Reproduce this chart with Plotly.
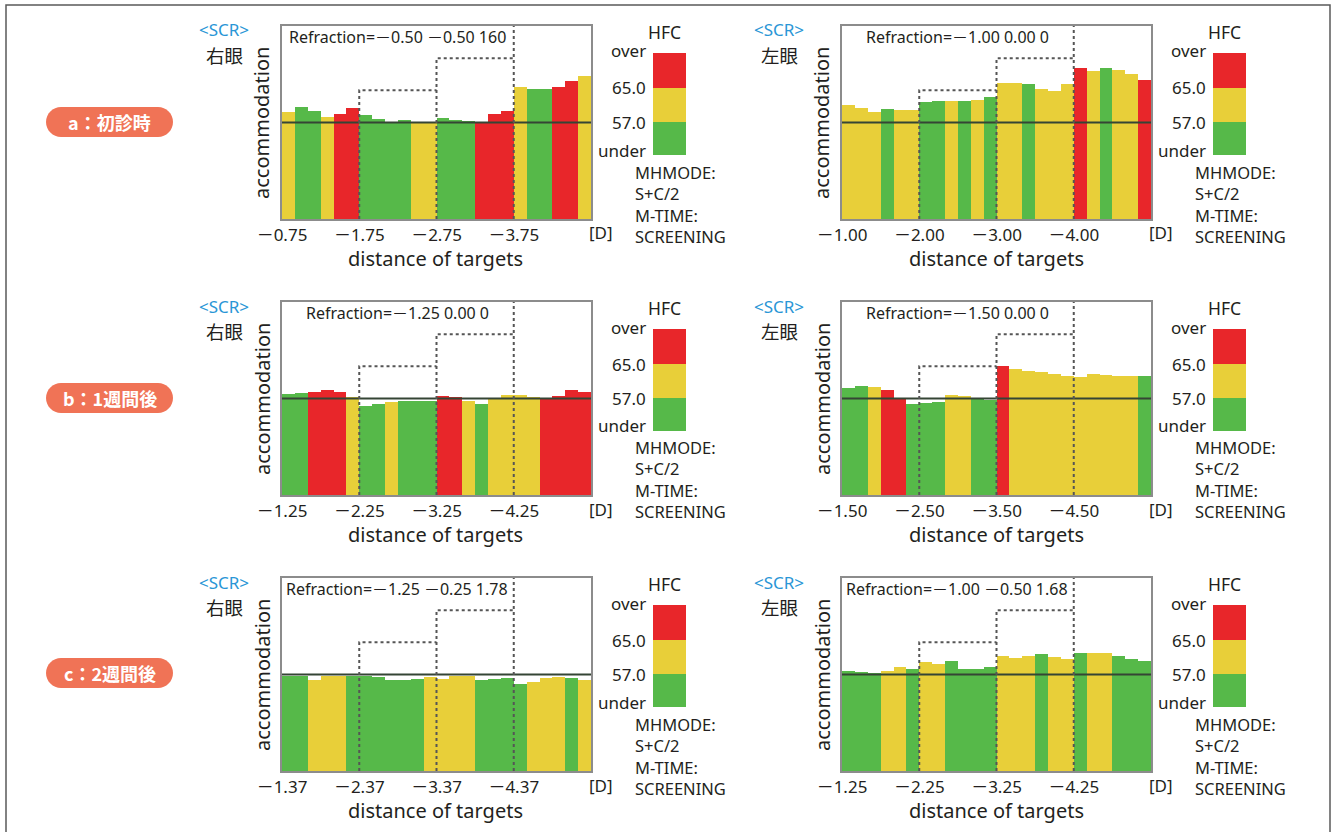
import plotly.graph_objects as go

W, H = 1335, 832
FONT = "Noto Sans, Noto Sans CJK JP, sans-serif"
CJK = "Noto Sans CJK JP, Noto Sans, sans-serif"

# ---------------- data ----------------
GREEN, YELLOW, RED = "#56b949", "#e8cf39", "#e8262a"
CLASS_COLOR = {"G": GREEN, "Y": YELLOW, "R": RED}

bars_per_step = 6
target_levels = [50, 66.7, 83.3, 100]          # staircase of target stimulus (4 steps)
legend_labels = ["over", "65.0", "57.0", "under"]
info_lines = ["MHMODE:", "S+C/2", "M-TIME:", "SCREENING"]
row_labels = ["a：初診時", "b：1週間後", "c：2週間後"]
eye_labels = ["右眼", "左眼"]

a_right_acc = [55.6, 58.2, 56.1, 53.0, 54.2, 57.7,
               53.9, 51.6, 50.1, 51.3, 49.6, 49.6,
               52.2, 51.5, 50.8, 50.4, 54.2, 56.0,
               68.6, 67.4, 67.4, 68.6, 71.7, 74.1]
a_right_hfc = ["Y", "G", "G", "Y", "R", "R",
               "G", "G", "G", "G", "Y", "Y",
               "G", "G", "G", "R", "R", "R",
               "Y", "G", "G", "R", "R", "Y"]
a_right_ticks = ["－0.75", "－1.75", "－2.75", "－3.75"]
a_right_refr = "Refraction=－0.50 －0.50 160"

a_left_acc = [59.1, 57.3, 55.3, 56.8, 56.5, 56.5,
              60.8, 61.3, 61.3, 61.1, 61.7, 63.2,
              70.3, 70.6, 69.9, 67.2, 66.2, 69.9,
              78.1, 76.7, 78.4, 77.2, 75.3, 71.8]
a_left_hfc = ["Y", "Y", "Y", "G", "Y", "Y",
              "G", "G", "Y", "G", "Y", "G",
              "Y", "Y", "G", "Y", "Y", "Y",
              "R", "Y", "G", "Y", "Y", "R"]
a_left_ticks = ["－1.00", "－2.00", "－3.00", "－4.00"]
a_left_refr = "Refraction=－1.00 0.00 0"

b_right_acc = [52.3, 52.7, 53.2, 54.4, 53.6, 50.6,
               46.3, 47.1, 48.0, 48.9, 48.9, 48.9,
               51.5, 50.6, 48.9, 47.1, 50.3, 51.6,
               52.0, 51.0, 50.3, 51.3, 54.4, 53.2]
b_right_hfc = ["G", "G", "R", "R", "R", "Y",
               "G", "G", "Y", "G", "G", "G",
               "R", "R", "Y", "G", "Y", "Y",
               "Y", "Y", "R", "R", "R", "R"]
b_right_ticks = ["－1.25", "－2.25", "－3.25", "－4.25"]
b_right_refr = "Refraction=－1.25 0.00 0"

b_left_acc = [55.5, 56.3, 55.8, 54.6, 50.3, 47.1,
              47.7, 48.0, 51.8, 51.5, 50.1, 49.4,
              67.1, 65.3, 64.5, 63.6, 62.7, 61.9,
              61.4, 62.7, 62.4, 61.9, 61.9, 61.9]
b_left_hfc = ["G", "G", "Y", "R", "R", "G",
              "G", "G", "Y", "Y", "G", "G",
              "R", "Y", "Y", "Y", "Y", "Y",
              "Y", "Y", "Y", "Y", "Y", "G"]
b_left_ticks = ["－1.50", "－2.50", "－3.50", "－4.50"]
b_left_refr = "Refraction=－1.50 0.00 0"

c_right_acc = [49.1, 49.1, 47.4, 49.1, 49.1, 49.1,
               49.1, 48.8, 47.4, 47.1, 47.6, 48.8,
               47.6, 49.1, 49.1, 47.4, 47.9, 48.3,
               45.3, 46.2, 48.3, 48.6, 48.4, 47.4]
c_right_hfc = ["G", "G", "Y", "Y", "Y", "G",
               "G", "G", "G", "G", "G", "Y",
               "Y", "Y", "Y", "G", "G", "G",
               "G", "Y", "Y", "Y", "G", "Y"]
c_right_ticks = ["－1.37", "－2.37", "－3.37", "－4.37"]
c_right_refr = "Refraction=－1.25 －0.25 1.78"

c_left_acc = [51.7, 51.4, 50.9, 51.7, 54.0, 53.1,
              56.6, 55.7, 57.1, 52.8, 53.1, 54.0,
              59.7, 58.7, 59.7, 60.4, 59.2, 57.8,
              61.4, 61.3, 60.9, 59.7, 57.8, 57.1]
c_left_hfc = ["G", "G", "G", "Y", "Y", "G",
              "Y", "Y", "G", "G", "G", "G",
              "Y", "Y", "Y", "G", "Y", "Y",
              "G", "Y", "Y", "G", "G", "G"]
c_left_ticks = ["－1.25", "－2.25", "－3.25", "－4.25"]
c_left_refr = "Refraction=－1.00 －0.50 1.68"

panels = [
    (0, 0, a_right_acc, a_right_hfc, a_right_ticks, a_right_refr),
    (0, 1, a_left_acc, a_left_hfc, a_left_ticks, a_left_refr),
    (1, 0, b_right_acc, b_right_hfc, b_right_ticks, b_right_refr),
    (1, 1, b_left_acc, b_left_hfc, b_left_ticks, b_left_refr),
    (2, 0, c_right_acc, c_right_hfc, c_right_ticks, c_right_refr),
    (2, 1, c_left_acc, c_left_hfc, c_left_ticks, c_left_refr),
]

# ---------------- layout geometry (pixels) ----------------
COL_LEFT = [282, 842]
ROW_TOP = [26, 302, 578]
PW, PH = 309, 193
SCR_OFF = [58, 63]
PILL_CY = [122, 398, 673]


def px(x):
    return x / W


def py(y):
    return 1 - y / H


fig = go.Figure()
annotations = []
shapes = []


def txt(x, y, s, size=16, color="#231f20", xanchor="center", angle=0, family=FONT,
        align="center"):
    annotations.append(dict(
        x=px(x), y=py(y), xref="paper", yref="paper", text=s, showarrow=False,
        xanchor=xanchor, yanchor="middle", textangle=angle, align=align,
        font=dict(family=family, size=size, color=color)))


n_steps = len(target_levels)
n_bars = n_steps * bars_per_step

for i, (r, c, acc, hfc, ticks, refr) in enumerate(panels):
    k = i + 1
    xa, ya = f"x{k}", f"y{k}"
    L, T = COL_LEFT[c], ROW_TOP[r]
    R, B = L + PW, T + PH

    xs = [j + 0.5 for j in range(len(acc))]
    fig.add_trace(go.Bar(
        x=xs, y=acc, width=1.0, xaxis=xa, yaxis=ya,
        marker=dict(color=[CLASS_COLOR[h] for h in hfc], line=dict(width=0)),
        showlegend=False, hoverinfo="skip"))

    # reference line at first target level
    fig.add_trace(go.Scatter(
        x=[0, n_bars], y=[target_levels[0]] * 2, mode="lines", xaxis=xa, yaxis=ya,
        line=dict(color="#354535", width=1.8), showlegend=False, hoverinfo="skip"))

    # dotted staircase of targets
    sx, sy = [], []
    for s in range(1, n_steps):
        b0 = s * bars_per_step
        sx += [b0, b0]
        sy += [0, target_levels[s]]
        if s < n_steps - 1:
            sx += [b0 + bars_per_step]
            sy += [target_levels[s]]
        sx += [None]
        sy += [None]
    fig.add_trace(go.Scatter(
        x=sx, y=sy, mode="lines", xaxis=xa, yaxis=ya,
        line=dict(color="#555555", width=2, dash="dot"),
        showlegend=False, hoverinfo="skip"))

    axis_common = dict(showline=True, mirror=True, linecolor="#8c8c8c", linewidth=2,
                       showgrid=False, zeroline=False, automargin=False)
    fig.layout[f"xaxis{k}"] = dict(
        domain=[px(L), px(R)], anchor=ya, range=[0, n_bars],
        tickvals=[s * bars_per_step for s in range(n_steps)], ticktext=ticks,
        ticks="", tickfont=dict(family=FONT, size=17, color="#231f20"), **axis_common)
    fig.layout[f"yaxis{k}"] = dict(
        domain=[py(B), py(T)], anchor=xa, range=[0, 100],
        showticklabels=False, ticks="", **axis_common)

    # texts
    txt(L + 115, T + 11, refr, size=16)
    txt(L - SCR_OFF[c], T + 4, "&lt;SCR&gt;", size=17, color="#2a96d6")
    txt(L - SCR_OFF[c], T + 29, eye_labels[c], size=18.5)
    txt(L - 20, T + 97, "accommodation", size=20, angle=-90)
    txt(R + 10, B + 14, "[D]", size=17)
    txt(L + 154, B + 39, "distance of targets", size=20)

    # HFC legend
    txt(R + 73, T + 6, "HFC", size=17.5)
    ys_lab = [T + 25, T + 62, T + 96, T + 124]
    for lab, yy in zip(legend_labels, ys_lab):
        txt(R + 57, yy, lab, size=17, xanchor="right")
    bands = [(RED, T + 27, T + 62), (YELLOW, T + 62, T + 96), (GREEN, T + 96, T + 129)]
    for col, y0, y1 in bands:
        shapes.append(dict(type="rect", xref="paper", yref="paper",
                           x0=px(R + 62), x1=px(R + 95), y0=py(y1), y1=py(y0),
                           fillcolor=col, line=dict(width=0), layer="above"))
    txt(R + 42, T + 178, "<br>".join(info_lines), size=16.5, xanchor="left", align="left")

# row label pills
for lab, cy in zip(row_labels, PILL_CY):
    x0, x1, y0, y1 = 46, 173, cy - 15, cy + 15
    rr = 15
    kk = 0.5523 * rr
    p = lambda x, y: f"{px(x):.6f},{py(y):.6f}"
    path = (f"M{p(x0 + rr, y0)} L{p(x1 - rr, y0)} "
            f"C{p(x1 - rr + kk, y0)} {p(x1, cy - kk)} {p(x1, cy)} "
            f"C{p(x1, cy + kk)} {p(x1 - rr + kk, y1)} {p(x1 - rr, y1)} "
            f"L{p(x0 + rr, y1)} "
            f"C{p(x0 + rr - kk, y1)} {p(x0, cy + kk)} {p(x0, cy)} "
            f"C{p(x0, cy - kk)} {p(x0 + rr - kk, y0)} {p(x0 + rr, y0)} Z")
    shapes.append(dict(type="path", xref="paper", yref="paper", path=path,
                       fillcolor="#f07356", line=dict(width=0), layer="below"))
    txt((x0 + x1) / 2, cy, f"<b>{lab}</b>", size=18, color="white", family=CJK)

# outer frame
shapes.append(dict(type="rect", xref="paper", yref="paper",
                   x0=px(6), x1=px(1330), y0=py(836), y1=py(5),
                   line=dict(color="#5a5a5a", width=1.5), fillcolor="rgba(0,0,0,0)",
                   layer="below"))

fig.update_layout(
    width=W, height=H, margin=dict(l=0, r=0, t=0, b=0, autoexpand=False),
    paper_bgcolor="white", plot_bgcolor="white",
    bargap=0, barmode="overlay", showlegend=False,
    annotations=annotations, shapes=shapes,
    font=dict(family=FONT, color="#231f20"),
)

fig.write_html("out.html",
               config={"displayModeBar": False},
               post_script="document.body.style.margin='0px';document.body.style.overflow='hidden';")
